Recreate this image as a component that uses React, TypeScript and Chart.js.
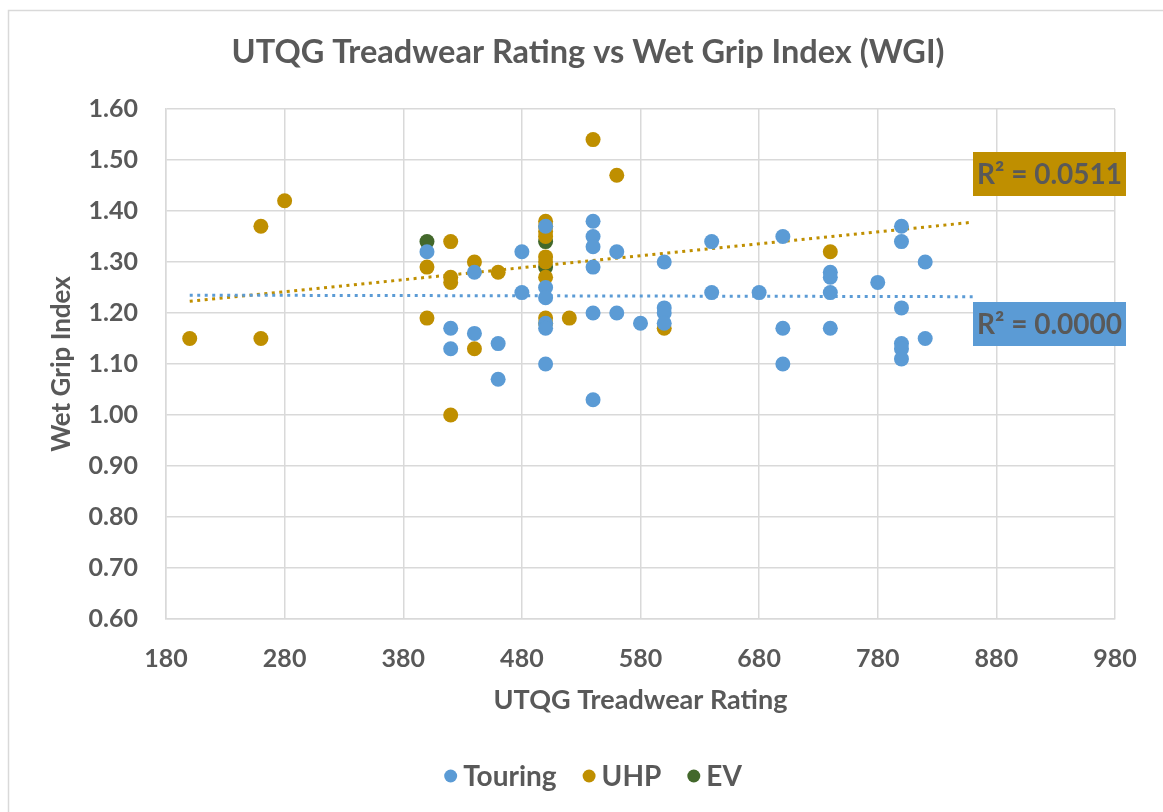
import React, { useEffect, useRef } from "react";
import { Chart, registerables } from "chart.js";

Chart.register(...registerables);

// ---- Data ----
const touringX = [400, 420, 420, 440, 440, 460, 460, 480, 480, 500, 500, 500, 500, 500, 500, 540, 540, 540, 540, 540, 540, 560, 560, 580, 600, 600, 600, 600, 640, 640, 680, 700, 700, 700, 740, 740, 740, 740, 780, 800, 800, 800, 800, 800, 800, 820, 820];
const touringY = [1.32, 1.17, 1.13, 1.28, 1.16, 1.14, 1.07, 1.32, 1.24, 1.37, 1.25, 1.23, 1.18, 1.17, 1.10, 1.38, 1.35, 1.33, 1.29, 1.20, 1.03, 1.32, 1.20, 1.18, 1.30, 1.21, 1.20, 1.18, 1.34, 1.24, 1.24, 1.35, 1.17, 1.10, 1.28, 1.27, 1.24, 1.17, 1.26, 1.37, 1.34, 1.21, 1.14, 1.13, 1.11, 1.30, 1.15];

const uhpX = [200, 260, 260, 280, 400, 400, 420, 420, 420, 420, 440, 440, 460, 500, 500, 500, 500, 500, 500, 500, 500, 500, 520, 540, 560, 600, 740];
const uhpY = [1.15, 1.37, 1.15, 1.42, 1.29, 1.19, 1.34, 1.27, 1.26, 1.00, 1.30, 1.13, 1.28, 1.38, 1.37, 1.36, 1.35, 1.31, 1.30, 1.27, 1.19, 1.18, 1.19, 1.54, 1.47, 1.17, 1.32];

const evX = [400, 500, 500];
const evY = [1.34, 1.34, 1.29];

// Linear trendlines as drawn in the chart (end values)
const trendX = [200, 860];
const touringTrendY = [1.235, 1.232];
const uhpTrendY = [1.223, 1.378];

const seriesNames = ["Touring", "UHP", "EV"];
const seriesColors = ["#5B9BD5", "#BF8F00", "#43682B"];
const r2Labels = ["R² = 0.0000", "R² = 0.0511"];

const xTicks = { min: 180, max: 980, step: 100 };
const yTicks = { min: 0.6, max: 1.6, step: 0.1 };

const titleText = "UTQG Treadwear Rating vs Wet Grip Index (WGI)";
const xTitle = "UTQG Treadwear Rating";
const yTitle = "Wet Grip Index";

// ---- helpers ----
const toPoints = (xs: number[], ys: number[]) => xs.map((x, i) => ({ x, y: ys[i] }));

const TEXT = "#595959";
const GRID = "#D9D9D9";
const FONT = "Lato";

const decorPlugin = {
  id: "decor",
  beforeDraw(chart: any) {
    const { ctx, width, height } = chart;
    ctx.save();
    ctx.fillStyle = "#ffffff";
    ctx.fillRect(0, 0, width, height);
    ctx.strokeStyle = GRID;
    ctx.lineWidth = 1.5;
    ctx.beginPath();
    ctx.moveTo(8.5, height + 5);
    ctx.lineTo(8.5, 10.5);
    ctx.lineTo(width + 5, 10.5);
    ctx.stroke();
    ctx.restore();
  },
  afterDraw(chart: any) {
    const { ctx, chartArea } = chart;
    ctx.save();
    // Title
    ctx.fillStyle = TEXT;
    ctx.font = `bold 32.5px ${FONT}`;
    ctx.textAlign = "center";
    ctx.textBaseline = "alphabetic";
    ctx.fillText(titleText, 588, 63);

    // R² boxes
    const boxes = [
      { text: r2Labels[1], color: seriesColors[1], top: 152 },
      { text: r2Labels[0], color: seriesColors[0], top: 302 },
    ];
    ctx.font = `bold 28px ${FONT}`;
    for (const b of boxes) {
      const left = chartArea.right - 142;
      const w = 153;
      const h = 44;
      ctx.fillStyle = b.color;
      ctx.fillRect(left, b.top, w, h);
      ctx.fillStyle = TEXT;
      ctx.textAlign = "center";
      ctx.textBaseline = "middle";
      ctx.fillText(b.text, left + w / 2, b.top + h / 2 + 1);
    }

    // Legend
    ctx.font = `bold 28px ${FONT}`;
    ctx.textAlign = "left";
    ctx.textBaseline = "middle";
    const r = 6.5;
    const gapDot = 6;
    const gapItem = 26;
    const widths = seriesNames.map((n) => ctx.measureText(n).width);
    const total = widths.reduce((a, w) => a + 2 * r + gapDot + w, 0) + gapItem * (seriesNames.length - 1);
    let x = 593 - total / 2;
    const y = 776;
    seriesNames.forEach((name, i) => {
      ctx.fillStyle = seriesColors[i];
      ctx.beginPath();
      ctx.arc(x + r, y, r, 0, Math.PI * 2);
      ctx.fill();
      x += 2 * r + gapDot;
      ctx.fillStyle = TEXT;
      ctx.fillText(name, x, y + 1);
      x += widths[i] + gapItem;
    });
    ctx.restore();
  },
};

export default function App() {
  const canvasRef = useRef<HTMLCanvasElement | null>(null);

  useEffect(() => {
    document.body.style.margin = "0";
    const canvas = canvasRef.current;
    if (!canvas) return;

    const scatterDs = (label: string, xs: number[], ys: number[], color: string) => ({
      type: "scatter" as const,
      label,
      data: toPoints(xs, ys),
      backgroundColor: color,
      borderColor: color,
      borderWidth: 0,
      pointRadius: 7.5,
      pointHoverRadius: 7.5,
    });
    const trendDs = (label: string, ys: number[], color: string) => ({
      type: "line" as const,
      label,
      data: toPoints(trendX, ys),
      borderColor: color,
      borderWidth: 3,
      borderDash: [3, 4.5],
      pointRadius: 0,
      fill: false,
    });

    const chart = new Chart(canvas, {
      type: "scatter",
      data: {
        datasets: [
          scatterDs(seriesNames[0], touringX, touringY, seriesColors[0]),
          scatterDs(seriesNames[1], uhpX, uhpY, seriesColors[1]),
          scatterDs(seriesNames[2], evX, evY, seriesColors[2]),
          trendDs("Touring trend", touringTrendY, seriesColors[0]),
          trendDs("UHP trend", uhpTrendY, seriesColors[1]),
        ] as any,
      },
      options: {
        responsive: false,
        animation: false,
        events: [],
        layout: { padding: { left: 0, top: 109, right: 48, bottom: 0 } },
        plugins: {
          legend: { display: false },
          title: { display: false },
          tooltip: { enabled: false },
        },
        scales: {
          x: {
            type: "linear",
            min: xTicks.min,
            max: xTicks.max,
            afterFit: (s: any) => {
              s.height = 193;
            },
            ticks: {
              stepSize: xTicks.step,
              color: TEXT,
              font: { family: FONT, size: 25, weight: "bold" },
              padding: 25,
              maxRotation: 0,
            },
            grid: { color: GRID, lineWidth: 1.5, drawTicks: false },
            border: { color: GRID, width: 1.5 },
            title: {
              display: true,
              text: xTitle,
              color: TEXT,
              font: { family: FONT, size: 27, weight: "bold" },
              padding: { top: 0, bottom: 96 },
            },
          },
          y: {
            type: "linear",
            min: yTicks.min,
            max: yTicks.max,
            afterFit: (s: any) => {
              s.width = 166;
            },
            ticks: {
              stepSize: yTicks.step,
              color: TEXT,
              font: { family: FONT, size: 25, weight: "bold" },
              padding: 28,
              callback: (v: any) => Number(v).toFixed(2),
            },
            grid: { color: GRID, lineWidth: 1.5, drawTicks: false },
            border: { color: GRID, width: 1.5 },
            title: {
              display: true,
              text: yTitle,
              color: TEXT,
              font: { family: FONT, size: 26, weight: "bold" },
              padding: { top: 46, bottom: 0 },
            },
          },
        },
      },
      plugins: [decorPlugin],
    });

    return () => chart.destroy();
  }, []);

  return (
    <div style={{ width: 1163, height: 812 }}>
      <canvas ref={canvasRef} width={1163} height={812} style={{ display: "block" }} />
    </div>
  );
}
